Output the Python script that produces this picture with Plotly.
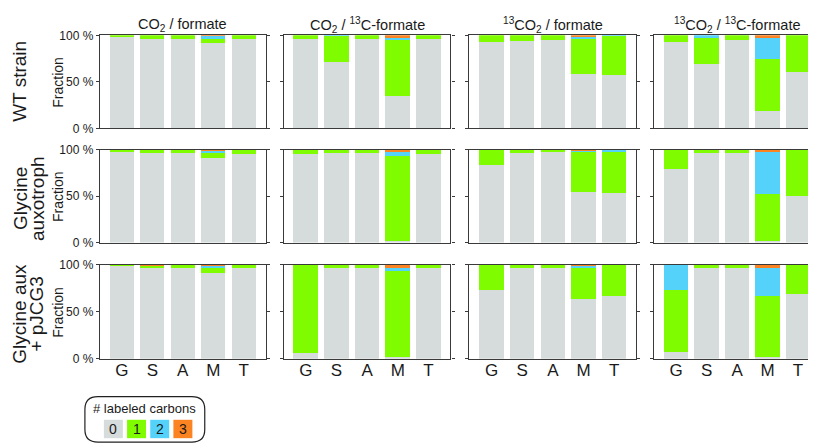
import plotly.graph_objects as go

W, H = 816, 443

AMINO = ["G", "S", "A", "M", "T"]
CONDITIONS = ["CO<sub>2</sub> / formate", "CO<sub>2</sub> / <sup>13</sup>C-formate",
              "<sup>13</sup>CO<sub>2</sub> / formate", "<sup>13</sup>CO<sub>2</sub> / <sup>13</sup>C-formate"]
STRAIN_LINES = [["WT strain"], ["Glycine", "auxotroph"], ["Glycine aux", "+ pJCG3"]]
LABELS = ["0", "1", "2", "3"]
COLORS = ["#d6dcdb", "#80fc00", "#55d2fa", "#fb8322"]
YTICKS = [0, 50, 100]
YTICKTEXT = ["0 %", "50 %", "100 %"]

# fractions (%) per condition (rows) x amino acid (G, S, A, M, T)
M0_WT = [[98.5, 96.5, 96.5, 91.6, 96.2], [96.0, 71.4, 96.0, 34.5, 95.8],
         [93.0, 94.4, 94.8, 58.2, 57.1], [92.7, 69.7, 94.8, 18.8, 60.3]]
M1_WT = [[1.5, 3.5, 3.5, 4.9, 3.8], [4.0, 28.1, 4.0, 60.6, 4.2],
         [7.0, 5.6, 5.2, 37.6, 42.4], [7.3, 27.9, 5.2, 55.8, 39.7]]
M2_WT = [[0, 0, 0, 3.0, 0], [0, 0.5, 0, 2.4, 0],
         [0, 0, 0, 2.8, 0.5], [0, 2.4, 0, 23.0, 0]]
M3_WT = [[0, 0, 0, 0.5, 0], [0, 0, 0, 2.5, 0],
         [0, 0, 0, 1.4, 0], [0, 0, 0, 2.4, 0]]

M0_AUX = [[98.3, 96.2, 96.5, 91.0, 95.8], [95.8, 96.2, 96.5, 1.4, 95.5],
          [83.7, 96.2, 96.9, 54.0, 53.3], [78.9, 96.2, 96.5, 2.0, 49.8]]
M1_AUX = [[1.7, 3.8, 3.5, 4.9, 4.2], [4.2, 3.8, 3.5, 92.0, 4.5],
          [16.3, 3.8, 3.1, 42.9, 45.3], [21.1, 3.8, 3.5, 50.2, 50.2]]
M2_AUX = [[0, 0, 0, 3.1, 0], [0, 0, 0, 3.8, 0],
          [0, 0, 0, 2.4, 1.4], [0, 0, 0, 45.3, 0]]
M3_AUX = [[0, 0, 0, 1.0, 0], [0, 0, 0, 2.8, 0],
          [0, 0, 0, 0.7, 0], [0, 0, 0, 2.5, 0]]

M0_PJ = [[99.0, 96.9, 96.9, 91.3, 96.2], [6.2, 96.9, 96.9, 1.4, 96.2],
         [73.7, 96.2, 96.2, 63.7, 66.8], [7.3, 96.2, 96.2, 2.1, 68.9]]
M1_PJ = [[1.0, 2.4, 3.1, 4.9, 3.8], [93.8, 3.1, 3.1, 91.7, 3.8],
         [26.3, 3.8, 3.8, 32.5, 33.2], [66.4, 3.8, 3.8, 65.0, 31.1]]
M2_PJ = [[0, 0.3, 0, 3.1, 0], [0, 0, 0, 3.5, 0],
         [0, 0, 0, 3.5, 0], [26.3, 0, 0, 29.8, 0]]
M3_PJ = [[0, 0.4, 0, 0.7, 0], [0, 0, 0, 3.4, 0],
         [0, 0, 0, 0.3, 0], [0, 0, 0, 3.1, 0]]

DATA = [[M0_WT, M1_WT, M2_WT, M3_WT],
        [M0_AUX, M1_AUX, M2_AUX, M3_AUX],
        [M0_PJ, M1_PJ, M2_PJ, M3_PJ]]

# layout in pixels
COL_X = [(92, 258), (276, 443), (462, 629), (647, 813)]
ROW_Y = [(21, 117), (139, 235), (258, 355)]
FONT = "Liberation Sans, Arial, sans-serif"
TXT = "#1a1a1a"
LINE = "#3a3a3a"

fig = go.Figure()
layout = dict(width=W, height=H, margin=dict(l=0, r=0, t=0, b=0),
              plot_bgcolor="white", paper_bgcolor="white", barmode="stack",
              showlegend=False, bargap=0.2, font=dict(family=FONT, color=TXT))

n = 0
for r in range(3):
    for c in range(4):
        n += 1
        xa = "x" if n == 1 else f"x{n}"
        ya = "y" if n == 1 else f"y{n}"
        for k in range(4):
            fig.add_trace(go.Bar(x=AMINO, y=DATA[r][k][c], marker_color=COLORS[k],
                                 marker_line_width=0, xaxis=xa, yaxis=ya,
                                 name=LABELS[k], hoverinfo="skip"))
        x0, x1 = COL_X[c]
        y0, y1 = ROW_Y[r]
        layout["xaxis" if n == 1 else f"xaxis{n}"] = dict(
            domain=[x0 / W, x1 / W], anchor=ya, range=[-0.72, 4.72],
            showline=True, linecolor=LINE, linewidth=1.3, mirror=True,
            ticks="", showticklabels=(r == 2), showgrid=False, zeroline=False,
            ticklabelstandoff=-4,
            tickfont=dict(size=17, family=FONT, color=TXT), fixedrange=True)
        layout["yaxis" if n == 1 else f"yaxis{n}"] = dict(
            domain=[1 - y1 / H, 1 - y0 / H], anchor=xa, range=[0, 100],
            showline=True, linecolor=LINE, linewidth=1.3, mirror="ticks",
            ticks="outside", ticklen=3, tickcolor=LINE, tickwidth=1,
            tickvals=YTICKS, ticktext=YTICKTEXT, showticklabels=(c == 0),
            tickfont=dict(size=12, family=FONT, color=TXT),
            showgrid=False, zeroline=False, fixedrange=True)

fig.update_layout(**layout)


def px(x):
    return x / W


def py(y):
    return 1 - y / H


def note(text, x, y, size, angle=0):
    return dict(text=text, x=px(x), y=py(y), xref="paper", yref="paper",
                xanchor="center", yanchor="middle", showarrow=False, borderpad=0,
                textangle=angle, font=dict(size=size, family=FONT, color=TXT))


ann = []
for c, t in enumerate(CONDITIONS):
    ann.append(note(t, (COL_X[c][0] + COL_X[c][1]) / 2, 10, 14.5))
for r, lines in enumerate(STRAIN_LINES):
    yc = (ROW_Y[r][0] + ROW_Y[r][1]) / 2
    if len(lines) == 1:
        ann.append(note(lines[0], 12, yc - 1, 19, -90))
    else:
        ann.append(note(lines[0], 12, yc + 2, 19, -90))
        ann.append(note(lines[1], 29, yc + 2, 19, -90))
    ann.append(note("Fraction", 50, yc, 14, -90))

# legend box
bx0, bx1, by0, by1, rad = 77, 197, 394, 441, 13
path = (f"M {px(bx0 + rad)} {py(by0)} L {px(bx1 - rad)} {py(by0)} "
        f"Q {px(bx1)} {py(by0)} {px(bx1)} {py(by0 + rad)} L {px(bx1)} {py(by1 - rad)} "
        f"Q {px(bx1)} {py(by1)} {px(bx1 - rad)} {py(by1)} L {px(bx0 + rad)} {py(by1)} "
        f"Q {px(bx0)} {py(by1)} {px(bx0)} {py(by1 - rad)} L {px(bx0)} {py(by0 + rad)} "
        f"Q {px(bx0)} {py(by0)} {px(bx0 + rad)} {py(by0)} Z")
shapes = [dict(type="path", path=path, xref="paper", yref="paper",
               line=dict(color="#222", width=1.2), fillcolor="rgba(0,0,0,0)")]
ann.append(note("# labeled carbons", (bx0 + bx1) / 2, 406, 13))
for i, (lab, col) in enumerate(zip(LABELS, COLORS)):
    cx = 105.5 + i * 23.2
    shapes.append(dict(type="rect", xref="paper", yref="paper",
                       x0=px(cx - 9.5), x1=px(cx + 9.5), y0=py(437), y1=py(418),
                       fillcolor=col, line=dict(width=0)))
    ann.append(note(lab, cx, 427.5, 14))

fig.update_layout(annotations=ann, shapes=shapes)
fig.write_html("out.html")
